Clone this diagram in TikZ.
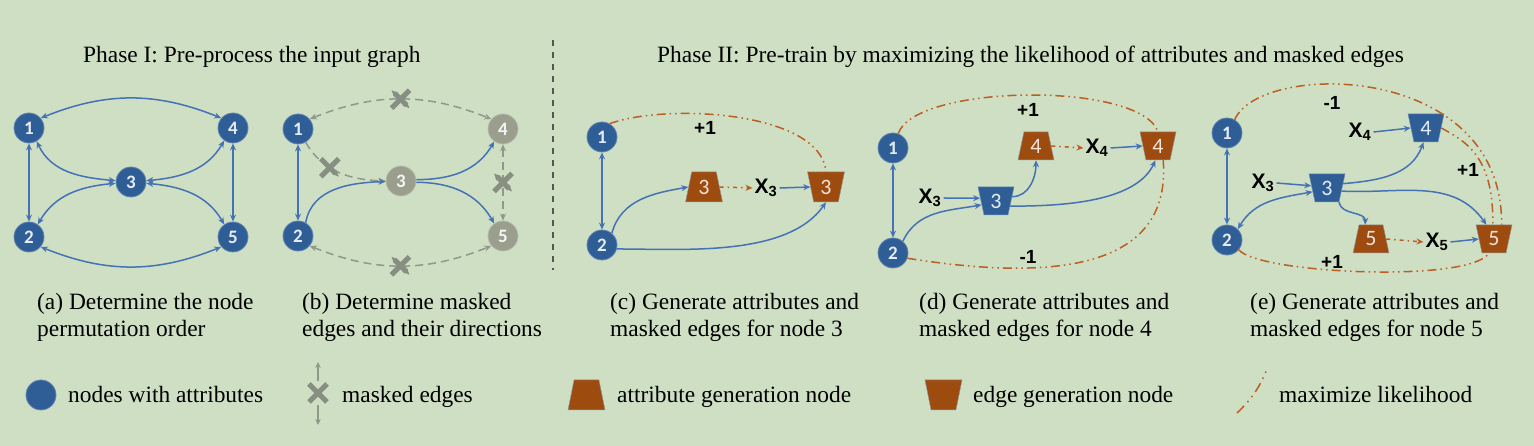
\documentclass[tikz,border=0pt]{standalone}
\usepackage{fontspec}
\setmainfont{Liberation Serif}
\newfontfamily\calibri{Carlito}
\newfontfamily\arialf{Liberation Sans}
\usetikzlibrary{arrows.meta,shapes.geometric,calc}
\definecolor{bgc}{HTML}{CFDFC4}
\definecolor{nodeblue}{HTML}{2F5E97}
\definecolor{edgeblue}{HTML}{4472B4}
\definecolor{trapor}{HTML}{9E4B10}
\definecolor{oline}{HTML}{BA5E22}
\definecolor{ngray}{HTML}{9A9E8C}
\definecolor{gline}{HTML}{8E998A}
\definecolor{xgray}{HTML}{868F81}
\definecolor{divc}{HTML}{555555}
\newcommand\xlab[1]{X\textsubscript{#1}}
\tikzset{
  bn/.style={circle, fill=nodeblue, draw=nodeblue!75!white, line width=0.8pt, minimum size=30pt, inner sep=0pt, text=white!88!nodeblue, font=\calibri\bfseries\fontsize{19}{19}\selectfont},
  gn/.style={bn, fill=ngray, draw=ngray!70!white, text=white!90!ngray},
  trapbase/.style={trapezium, trapezium stretches=true, minimum width=36pt, minimum height=28pt, inner sep=0pt, draw=gray!85, line width=0.5pt, font=\calibri\fontsize{22}{22}\selectfont},
  atrap/.style={trapbase, trapezium left angle=79, trapezium right angle=79, fill=trapor, text=white!85!trapor},
  etrap/.style={trapbase, trapezium left angle=101, trapezium right angle=101, fill=trapor, text=white!85!trapor},
  betrap/.style={trapbase, trapezium left angle=101, trapezium right angle=101, fill=nodeblue, draw=nodeblue!70!white, text=white!88!nodeblue},
  big/.style={minimum width=37pt, minimum height=30pt},
  be/.style={draw=edgeblue, line width=1.5pt},
  gd/.style={draw=gline, line width=1.5pt, dash pattern=on 8pt off 5pt},
  od/.style={draw=oline, line width=1.5pt, dash pattern=on 4pt off 4pt on 1.5pt off 4pt},
  oml/.style={draw=oline, line width=1.5pt, dash pattern=on 9pt off 4pt on 1.5pt off 4pt on 1.5pt off 4pt},
  xmark/.style={minimum size=24pt, inner sep=0pt, path picture={\draw[solid, line width=5pt, draw=xgray] ($(path picture bounding box.center)+(-9,-9)$) -- ++(18,18) ($(path picture bounding box.center)+(-9,9)$) -- ++(18,-18);}},
  xl/.style={inner sep=2pt, font=\arialf\bfseries\fontsize{21}{21}\selectfont},
  pm/.style={inner sep=1pt, font=\arialf\bfseries\fontsize{19}{19}\selectfont},
  lt/.style={inner sep=0pt, font=\fontsize{23.4}{27}\selectfont},
}
\begin{document}
\begin{tikzpicture}[x=1pt, y=1pt, >={Stealth[length=7pt,width=6pt]}]
\useasboundingbox (0,0) rectangle (1534,446);
\fill[bgc] (0,0) rectangle (1534,446);

% titles
\node[lt, anchor=base west] (t1) at (83,383) {Phase I: Pre-process the input graph};
\node[lt, anchor=base west] (t2) at (657,383) {Phase II: Pre-train by maximizing the likelihood of attributes and masked edges};
\coordinate (dv1) at (553,406);
\coordinate (dv2) at (553,176);
\draw[divc, line width=1.2pt, dash pattern=on 6pt off 6pt] (dv1) -- (dv2);

% ---------- panel (a)
\node[bn] (a1) at (29,318) {1};
\node[bn] (a4) at (233,318) {4};
\node[bn] (a3) at (131,264) {3};
\node[bn] (a2) at (29,209) {2};
\node[bn] (a5) at (233,209) {5};
\draw[be,<->] (a1) -- (a2);
\draw[be,<->] (a4) -- (a5);
\draw[be,<->] (a1.40) to[out=22,in=158] (a4.140);
\draw[be,<->] (a2.-40) to[out=-22,in=-158] (a5.-140);
\draw[be,<->] (a1.-60) to[out=-65,in=175] (a3.175);
\draw[be,<->] (a3.185) to[out=185,in=60] (a2.55);
\draw[be,<->] (a3.5) to[out=5,in=-120] (a4.-125);
\draw[be,<->] (a3.-5) to[out=-5,in=120] (a5.125);

% ---------- panel (b)
\node[bn] (b1) at (298,317) {1};
\node[gn] (b4) at (503,317) {4};
\node[gn] (b3) at (401,265) {3};
\node[bn] (b2) at (298,210) {2};
\node[gn] (b5) at (503,210) {5};
\draw[gd,<->] (b1.40) to[out=22,in=158] node[xmark,pos=0.5] (bx1) {} (b4.140);
\draw[gd,<->] (b2.-40) to[out=-22,in=-158] node[xmark,pos=0.5] (bx2) {} (b5.-140);
\draw[gd,->] (b1.-60) to[out=-60,in=178] node[xmark,pos=0.38] (bx3) {} (b3.180);
\draw[gd,<->] (b4) -- node[xmark,pos=0.5] (bx4) {} (b5);
\draw[be,<->] (b1) -- (b2);
\draw[be,->] (b2.60) to[out=80,in=182] (b3.182);
\draw[be,->] (b3.5) to[out=0,in=-120] (b4.-125);
\draw[be,->] (b3.-5) to[out=0,in=120] (b5.125);

% ---------- panel (c)
\node[bn] (c1) at (602,309) {1};
\node[bn] (c2) at (602,201) {2};
\node[atrap,big] (cA3) at (704,259) {3};
\node[xl] (cx3) at (766,258) {\xlab{3}};
\node[etrap,big] (cE3) at (826,259) {3};
\node[pm] (cp1) at (705,318) {+1};
\draw[be,<->] (c1) -- (c2);
\draw[be,->] (c2.50) to[out=75,in=190] (cA3.west);
\draw[be,->] (c2.-15) to[out=0,in=-125,looseness=0.8] (cE3.south);
\draw[od,->] (cA3.east) -- (cx3.west);
\draw[be,->] (cx3.east) -- (cE3.west);
\draw[oml] (c1.60) to[out=20,in=95,looseness=0.7] (cE3.north);

% ---------- panel (d)
\node[bn] (d1) at (893,298) {1};
\node[bn] (d2) at (893,193) {2};
\node[xl] (dx3) at (930,248) {\xlab{3}};
\node[betrap] (dE3) at (996,245) {3};
\node[atrap] (dA4) at (1036,300) {4};
\node[xl] (dx4) at (1097,298) {\xlab{4}};
\node[etrap] (dE4) at (1158,300) {4};
\node[pm] (dp1) at (1028,336) {+1};
\node[pm] (dm1) at (1028,189) {-1};
\draw[be,<->] (d1) -- (d2);
\draw[be,->] (dx3.east) -- (dE3.170);
\draw[be,->] (d2.50) to[out=65,in=190] (dE3.195);
\draw[be,->] (dE3.15) to[out=0,in=-90] (dA4.south);
\draw[be,->] (dE3.-20) to[out=0,in=-115,looseness=0.8] (dE4.-100);
\draw[od,->] (dA4.east) -- (dx4.west);
\draw[be,->] (dx4.east) -- (dE4.west);
\draw[oml] (d1.70) .. controls (915,362) and (1140,365) .. (dE4.north);
\draw[oml] (d2.-20) .. controls (1050,165) and (1172,175) .. (dE4.-70);

% ---------- panel (e)
\node[bn] (e1) at (1227,313) {1};
\node[bn] (e2) at (1227,206) {2};
\node[xl] (ex3) at (1263,263) {\xlab{3}};
\node[betrap] (eE3) at (1327,258) {3};
\node[xl] (ex4) at (1360,314) {\xlab{4}};
\node[betrap] (eE4) at (1426,318) {4};
\node[atrap] (eA5) at (1371,207) {5};
\node[xl] (ex5) at (1437,204) {\xlab{5}};
\node[etrap] (eE5) at (1494,207) {5};
\node[pm] (em1) at (1332,343) {-1};
\node[pm] (ep1) at (1468,276) {+1};
\node[pm] (ep2) at (1332,184) {+1};
\draw[be,<->] (e1) -- (e2);
\draw[be,->] (ex3.east) -- (eE3.172);
\draw[be,->] (ex4.east) -- (eE4.west);
\draw[be,<->] (e2.45) to[out=60,in=190] (eE3.195);
\draw[be,->] (eE3.15) to[out=5,in=-110] (eE4.-100);
\draw[be,->] (eE3.-12) to[out=-3,in=125] (eE5.118);
\draw[be,->] (eE3.-50) to[out=-80,in=90] (eA5.112);
\draw[od,->] (eA5.east) -- (ex5.west);
\draw[be,->] (ex5.east) -- (eE5.west);
\draw[oml] (e1.60) .. controls (1260,385) and (1503,385) .. (eE5.62);
\draw[oml] (eE4.east) .. controls (1465,305) and (1494,290) .. (eE5.95);
\draw[oml] (e2.-40) .. controls (1260,172) and (1470,163) .. (eE5.-110);

% ---------- captions (base = last line)
\node[lt, anchor=base west, align=left] (capa) at (37,109) {(a) Determine the node\\permutation order};
\node[lt, anchor=base west, align=left] (capb) at (302,109) {(b) Determine masked\\edges and their directions};
\node[lt, anchor=base west, align=left] (capc) at (610,109) {(c) Generate attributes and\\masked edges for node 3};
\node[lt, anchor=base west, align=left] (capd) at (919,109) {(d) Generate attributes and\\masked edges for node 4};
\node[lt, anchor=base west, align=left] (cape) at (1250,109) {(e) Generate attributes and\\masked edges for node 5};

% ---------- legend
\node[bn] (lg1) at (41,51) {};
\node[lt, anchor=base west] (lt1) at (68,43) {nodes with attributes};
\node[xmark] (lgx) at (318,53) {};
\coordinate (lgu) at (318,84);
\coordinate (lgd) at (318,21);
\draw[gline, line width=1.5pt, >={Stealth[length=6pt,width=5.5pt]}, ->] (lgx.north) -- (lgu);
\draw[gline, line width=1.5pt, >={Stealth[length=6pt,width=5.5pt]}, ->] (lgx.south) -- (lgd);
\node[lt, anchor=base west] (lt2) at (342,43) {masked edges};
\node[atrap,big,inner sep=1pt] (lga) at (586.5,51) {\phantom{3}};
\node[lt, anchor=base west] (lt3) at (617,43) {attribute generation node};
\node[etrap,big,inner sep=1pt] (lge) at (943.5,51) {\phantom{3}};
\node[lt, anchor=base west] (lt4) at (973,43) {edge generation node};
\coordinate (lk1) at (1237,33);
\coordinate (lk2) at (1267,77);
\draw[oml, dash pattern=on 10pt off 5pt on 1.5pt off 5pt on 1.5pt off 5pt] (lk1) to[bend right=12] (lk2);
\node[lt, anchor=base west] (lt5) at (1279,43) {maximize likelihood};
\end{tikzpicture}
\end{document}
